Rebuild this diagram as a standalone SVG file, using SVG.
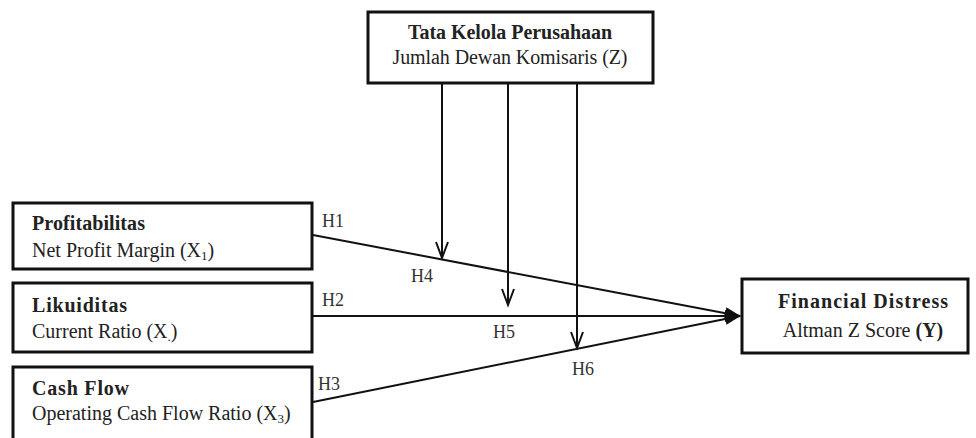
<svg xmlns="http://www.w3.org/2000/svg" width="976" height="438" viewBox="0 0 976 438">
<style>
.box{fill:#fff;stroke:#111;stroke-width:3}
.t{font-family:"Liberation Serif","Times New Roman",serif;fill:#222;font-size:20px}
.b{font-weight:bold}
.ln{stroke:#111;stroke-width:2;fill:none}
.lab{font-family:"Liberation Serif","Times New Roman",serif;font-size:18px;fill:#333}
.sub{font-size:13px}
</style>
<defs>
<marker id="tri" markerWidth="16" markerHeight="12" refX="15" refY="6" orient="auto" markerUnits="userSpaceOnUse">
<path d="M0,0 L16,6 L0,12 Z" fill="#111"/>
</marker>
<marker id="vee" markerWidth="20" markerHeight="14" refX="17" refY="7" orient="auto" markerUnits="userSpaceOnUse">
<path d="M1,1 L17,7 L1,13" fill="none" stroke="#111" stroke-width="2"/>
</marker>
</defs>
<rect width="976" height="438" fill="#fff"/>
<g id="connectors">
<line class="ln" x1="313" y1="235" x2="740" y2="316" marker-end="url(#tri)"/>
<line class="ln" x1="313" y1="316" x2="740" y2="316" marker-end="url(#tri)"/>
<line class="ln" x1="313" y1="402" x2="740" y2="316" marker-end="url(#tri)"/>
<line class="ln" x1="442" y1="84" x2="442" y2="258" marker-end="url(#vee)"/>
<line class="ln" x1="508" y1="84" x2="508" y2="305" marker-end="url(#vee)"/>
<line class="ln" x1="577" y1="84" x2="577" y2="348" marker-end="url(#vee)"/>
<text class="lab" x="322" y="227">H1</text>
<text class="lab" x="411" y="282">H4</text>
<text class="lab" x="322" y="306">H2</text>
<text class="lab" x="493" y="338">H5</text>
<text class="lab" x="318" y="390">H3</text>
<text class="lab" x="572" y="375">H6</text>
</g>
<g id="node-z">
<rect class="box" x="368" y="12" width="285" height="71"/>
<text class="t b" x="510" y="39" font-size="19" text-anchor="middle" textLength="204">Tata Kelola Perusahaan</text>
<text class="t" x="510" y="64" text-anchor="middle" textLength="235">Jumlah Dewan Komisaris (Z)</text>
</g>
<g id="node-x1">
<rect class="box" x="13" y="203" width="299" height="66"/>
<text class="t b" x="32" y="230" textLength="113">Profitabilitas</text>
<text class="t" x="32" y="257">Net Profit Margin (X<tspan class="sub" dy="3">1</tspan><tspan dy="-3">)</tspan></text>
</g>
<g id="node-x2">
<rect class="box" x="13" y="283" width="299" height="69"/>
<text class="t b" x="32" y="312" font-size="21" textLength="95">Likuiditas</text>
<text class="t" x="32" y="338">Current Ratio (X<tspan class="sub" dy="3">.</tspan><tspan dy="-3">)</tspan></text>
</g>
<g id="node-x3">
<rect class="box" x="13" y="367" width="299" height="80"/>
<text class="t b" x="32" y="395" font-size="21" textLength="97">Cash Flow</text>
<text class="t" x="32" y="420">Operating Cash Flow Ratio (X<tspan class="sub" dy="3">3</tspan><tspan dy="-3">)</tspan></text>
</g>
<g id="node-y">
<rect class="box" x="742" y="279" width="226" height="74"/>
<text class="t b" x="863" y="308" font-size="22" text-anchor="middle" textLength="170">Financial Distress</text>
<text class="t" x="863" y="337" font-size="22" text-anchor="middle">Altman Z Score <tspan class="b">(Y)</tspan></text>
</g>
</svg>
